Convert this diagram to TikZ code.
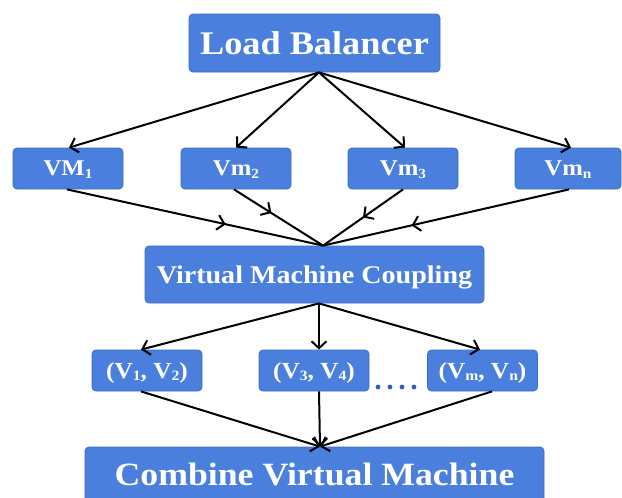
\documentclass[tikz,border=0pt]{standalone}
\usepackage{fontspec}
\usepackage{graphicx}
\newfontfamily\boxfont{Liberation Serif}[FakeStretch=1.1]
\usetikzlibrary{arrows.meta,decorations.markings,calc}
\definecolor{boxblue}{RGB}{74,127,222}
\definecolor{boxedge}{RGB}{58,108,205}
\definecolor{dotblue}{RGB}{50,95,190}
\newcommand{\lowsub}[1]{\raisebox{-0.12em}{\scalebox{0.62}{#1}}}
\begin{document}
\begin{tikzpicture}[x=1pt,y=-1pt,
  box/.style={draw=boxedge, line width=0.8pt, fill=boxblue, rounded corners=4pt,
    text=white, inner sep=0pt},
  bigtxt/.style={font=\boxfont\bfseries\fontsize{33}{36}\selectfont, text height=22pt, text depth=0pt},
  combtxt/.style={font=\boxfont\bfseries\fontsize{32.5}{36}\selectfont, text height=21pt, text depth=0pt},
  midtxt/.style={font=\boxfont\bfseries\fontsize{25.5}{30}\selectfont, text height=17pt, text depth=0pt},
  smalltxt/.style={font=\boxfont\bfseries\fontsize{22.5}{26}\selectfont, text height=14.5pt, text depth=0pt},
  pairtxt/.style={font=\boxfont\bfseries\fontsize{23}{26}\selectfont, text height=15pt, text depth=0pt},
  vmbox/.style={box, smalltxt, minimum width=110pt, minimum height=41pt},
  pairbox/.style={box, pairtxt, minimum width=110pt, minimum height=41pt},
  conn/.style={line width=2pt, draw=black},
  tip/.style={-{Straight Barb[length=7pt,width=15pt,line width=2pt]}},
  midarrow/.style={decoration={markings,
      mark=at position #1 with {\arrow{Straight Barb[length=7pt,width=15pt,line width=2pt]}}},
    postaction={decorate}}
]
\fill[white] (0,0) rectangle (622,498);
\clip (0,0) rectangle (622,498);
\useasboundingbox (0,0) rectangle (622,498);

% nodes
\node[box, bigtxt, minimum width=251pt, minimum height=58pt] (lb) at (314.5,43) {Load Balancer};

\node[vmbox] (vm1) at (68,168.5) {VM\lowsub{1}};
\node[vmbox] (vm2) at (236,168.5) {Vm\lowsub{2}};
\node[vmbox] (vm3) at (403,168.5) {Vm\lowsub{3}};
\node[vmbox, minimum width=106pt] (vmn) at (568,168.5) {Vm\lowsub{n}};

\node[box, midtxt, minimum width=339pt, minimum height=57pt] (vmc) at (314.5,274.5) {Virtual Machine Coupling};

\node[pairbox] (p1) at (147,370.5) {(V\lowsub{1}, V\lowsub{2})};
\node[pairbox] (p2) at (314,370.5) {(V\lowsub{3}, V\lowsub{4})};
\node[pairbox] (p3) at (482.5,370.5) {(V\lowsub{m}, V\lowsub{n})};

\node[box, combtxt, minimum width=459pt, minimum height=56pt] (comb) at (314.5,475) {Combine Virtual Machine};

% dots
\foreach \dx in {378,390,402,414} \fill[dotblue] (\dx,387) circle (2.4pt);

% load balancer to VMs
\draw[conn,tip] ([xshift=4.5pt]lb.south) -- ([xshift=1pt]vm1.north);
\draw[conn,tip] ([xshift=4.5pt]lb.south) -- (vm2.north);
\draw[conn,tip] ([xshift=4.5pt]lb.south) -- ([xshift=2pt]vm3.north);
\draw[conn,tip] ([xshift=4.5pt]lb.south) -- ([xshift=3pt]vmn.north);

% VMs to coupling (mid arrows)
\draw[conn,midarrow=0.62] ([xshift=-1pt]vm1.south) -- ([xshift=8.5pt]vmc.north);
\draw[conn,midarrow=0.42] ([xshift=-2pt]vm2.south) -- ([xshift=8.5pt]vmc.north);
\draw[conn,midarrow=0.50] (vm3.south) -- ([xshift=8.5pt]vmc.north);
\draw[conn,midarrow=0.64] ([xshift=1pt]vmn.south) -- ([xshift=8.5pt]vmc.north);

% coupling to pairs
\draw[conn,tip] ([xshift=4.5pt]vmc.south) -- ([xshift=-6pt]p1.north);
\draw[conn,tip] ([xshift=4.5pt]vmc.south) -- ([xshift=5pt]p2.north);
\draw[conn,tip] ([xshift=4.5pt]vmc.south) -- ([xshift=-2.5pt]p3.north);

% pairs to combine
\draw[conn,tip] ([xshift=-6pt]p1.south) -- ([xshift=5.5pt]comb.north);
\draw[conn,tip] ([xshift=5pt]p2.south) -- ([xshift=5.5pt]comb.north);
\draw[conn,tip] ([xshift=9.5pt]p3.south) -- ([xshift=5.5pt]comb.north);
\end{tikzpicture}
\end{document}
